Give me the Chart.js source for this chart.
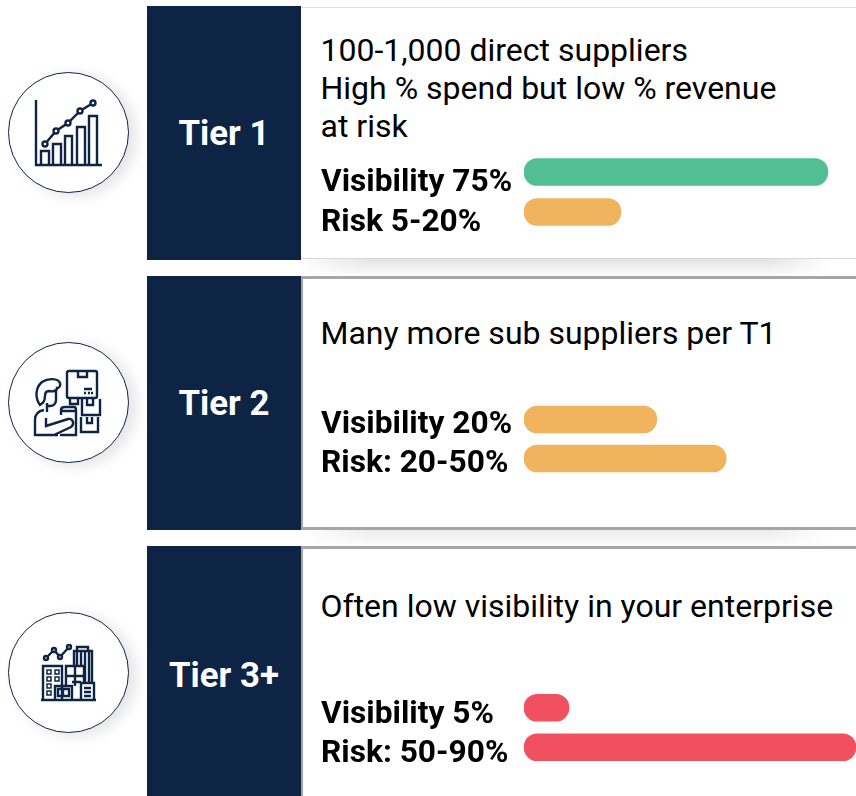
<!DOCTYPE html>
<html>
<head>
<meta charset="utf-8">
<script src="https://cdn.jsdelivr.net/npm/chart.js@4"></script>
<style>
html, body { margin: 0; padding: 0; background: #fff; width: 856px; height: 796px; overflow: hidden; }
body { position: relative; font-family: Roboto, sans-serif; color: #000; }
.tier { position: absolute; left: 147px; width: 154px; background: #0e2445; color: #fff; font-weight: 700; font-size: 34.8px;
  display: flex; align-items: center; justify-content: center; }
.panel { position: absolute; left: 301px; right: 0; box-sizing: border-box; background: #fff; }
.txt { position: absolute; left: 320.5px; font-size: 32px; line-height: 38px; white-space: nowrap; }
.shade { position: absolute; left: 301px; width: 555px;
  -webkit-mask-image: linear-gradient(to right, rgba(0,0,0,.1) 0, #000 70px, #000 470px, transparent 530px); }
.circle { position: absolute; left: 8px; width: 121px; height: 121px; border-radius: 50%; box-sizing: border-box;
  border: 1px solid #0e2445; background: #fff; box-shadow: 7px 3px 14px rgba(0,0,0,.11); }
svg.icon { position: absolute; left: 0; top: 0; width: 140px; height: 796px; fill: none; stroke: #0e2445; stroke-width: 2.4; }
canvas { position: absolute; left: 321px; }
</style>
</head>
<body>
<div class="shade" style="top:259px;height:17px;background:linear-gradient(to bottom,rgba(0,0,0,.11),rgba(0,0,0,.01))"></div>
<div class="shade" style="top:530px;height:16px;background:linear-gradient(to bottom,rgba(0,0,0,.07),rgba(0,0,0,.01))"></div>

<div class="panel" style="top:7px;height:252px;border-top:1px solid #dedede;border-bottom:1px solid #d8d8d8"></div>
<div class="panel" style="top:276px;height:254px;border-top:3px solid #a6a6a6;border-bottom:3px solid #a6a6a6;border-left:2px solid #a6a6a6"></div>
<div class="panel" style="top:546px;height:250px;border-top:3px solid #a6a6a6;border-left:2px solid #a6a6a6"></div>

<div class="tier" style="top:6px;height:254px">Tier 1</div>
<div class="tier" style="top:276px;height:254px">Tier 2</div>
<div class="tier" style="top:546px;height:250px;padding-top:8px;box-sizing:border-box">Tier 3+</div>

<div class="txt" style="top:31px">100-1,000 direct suppliers<br>High % spend but low % revenue<br>at risk</div>
<div class="txt" style="top:314px">Many more sub suppliers per T1</div>
<div class="txt" style="top:587px">Often low visibility in your enterprise</div>

<div class="circle" style="top:72px"></div>
<div class="circle" style="top:342px"></div>
<div class="circle" style="top:612px"></div>

<svg class="icon" viewBox="0 0 140 796">
  <!-- tier 1 icon -->
  <path d="M36 100V165H102"/>
  <path d="M41 165V151H49V165M53 165V144H61V165M65 165V136H72V165M77 165V127H85V165M89 165V116H97V165"/>
  <path d="M45 144L56 131L68 123L80 111L93 103"/>
  <g fill="#fff"><circle cx="45" cy="144" r="2.5"/><circle cx="56" cy="131" r="2.5"/><circle cx="68" cy="123" r="2.5"/><circle cx="80" cy="111" r="2.5"/><circle cx="93" cy="103" r="2.5"/></g>
  <!-- tier 2 icon -->
  <rect x="67" y="371" width="30" height="27" rx="2"/>
  <path d="M78 371V377H87V371M84 389H92M84 393H86M88 393H90M91 393H93"/>
  <path d="M82 399V415H100V399M70 398V404H78V398M87 399V405H93V399M81 417V432H98V417M87 417V423H92V417"/>
  <path d="M40 405C35 398 35 388 42 382C48 378 58 378 60 383C61 386 59 388 57 388C57 391 53 392 49 391C46 391 45 393 45 396C45 400 44 403 40 405Z"/>
  <path d="M56 389V400C56 404 53 406 50 406H47M47 403V412"/>
  <path d="M44 410C38 411 35 415 35 420V435H58M46 418V426L68 419C73 418 75 424 71 427L54 435"/>
  <path d="M61 415V410C61 408 63 407 65 407H74C76 407 76 409 76 410V435H60M62 411H76"/>
  <!-- tier 3 icon -->
  <path d="M46 658L54 650L60 657L69 647"/>
  <g fill="#fff"><circle cx="46" cy="658" r="2"/><circle cx="54" cy="650" r="2"/><circle cx="60" cy="657" r="2"/><circle cx="69" cy="647" r="2"/></g>
  <path d="M41 700H96M43 700V666H62V700M74 666V651H92V682M77 651V647H88V651M77 652V666M81 652V666M85 652V682M89 652V682"/>
  <path d="M66 686V666H84V682M66 676H84M75 666V686M72 682H81"/>
  <path d="M55 700V686H72V700M58 689H69V696H58ZM63 689V696"/>
  <path d="M81 700V683H94V700M84 688H91M84 692H91M84 696H91"/>
  <g stroke-width="1.5"><path d="M47 670h4v4h-4zM55 670h4v4h-4zM47 677h4v4h-4zM47 684h4v4h-4zM47 691h4v4h-4z"/><path d="M55 677h4v4h-4z"/></g>
</svg>

<canvas id="chart1" width="535" height="80" style="top:152px"></canvas>
<canvas id="chart2" width="535" height="78" style="top:400px"></canvas>
<canvas id="chart3" width="535" height="79" style="top:688px"></canvas>

<script>
const tier1Labels = ['Visibility 75%', 'Risk 5-20%'];
const tier1Values = [82.4, 26.3];
const tier1Colors = ['#52be94', '#f0b45f'];

const tier2Labels = ['Visibility 20%', 'Risk: 20-50%'];
const tier2Values = [36, 54.8];
const tier2Colors = ['#f0b45f', '#f0b45f'];

const tier3Labels = ['Visibility 5%', 'Risk: 50-90%'];
const tier3Values = [12.2, 90];
const tier3Colors = ['#f0505f', '#f0505f'];

function makeChart(id, labels, values, colors, labelShift) {
  return new Chart(document.getElementById(id), {
    type: 'bar',
    data: {
      labels: labels,
      datasets: [{
        data: values,
        backgroundColor: colors,
        borderRadius: 14,
        borderSkipped: false,
        barThickness: 27
      }]
    },
    options: {
      indexAxis: 'y',
      responsive: false,
      animation: false,
      layout: { padding: 0 },
      plugins: { legend: { display: false }, tooltip: { enabled: false } },
      scales: {
        x: { display: false, min: 0, max: 90 },
        y: {
          grid: { display: false },
          border: { display: false },
          // labels sit at the left of the panel, bars start at x=524
          afterFit: scale => {
            scale.width = 203;
            scale.paddingTop = 0;
            scale.paddingBottom = 0;
          },
          ticks: {
            autoSkip: false,
            crossAlign: 'far',
            padding: 0,
            labelOffset: labelShift,
            color: '#000',
            font: { family: 'Roboto', size: 31.7, weight: 'bold' }
          }
        }
      }
    }
  });
}

makeChart('chart1', tier1Labels, tier1Values, tier1Colors, 11);
makeChart('chart2', tier2Labels, tier2Values, tier2Colors, 5.5);
makeChart('chart3', tier3Labels, tier3Values, tier3Colors, 7);
</script>
</body>
</html>
